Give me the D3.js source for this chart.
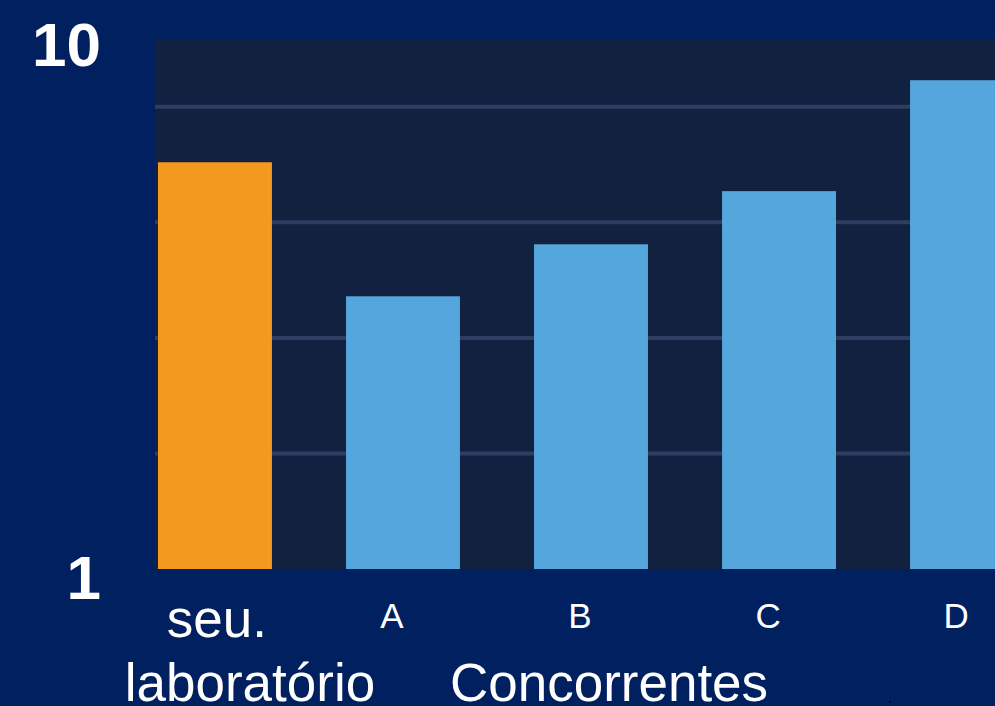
<!DOCTYPE html>
<html>
<head>
<meta charset="utf-8">
<script src="https://cdn.jsdelivr.net/npm/d3@7"></script>
<style>
  html, body { margin: 0; padding: 0; background: #00205f; overflow: hidden; }
  text { font-family: "Liberation Sans", Arial, sans-serif; }
</style>
</head>
<body>
<script>
// data
const categories = ["seu. laboratório", "A", "B", "C", "D"];
const values = [8.04, 5.72, 6.62, 7.54, 9.46];
const barColors = ["#f3991f", "#55a6dd", "#55a6dd", "#55a6dd", "#55a6dd"];
const gridValues = [3, 5, 7, 9];
const tickLabels = [1, 10];
const groupLabel = "Concorrentes";

const width = 995, height = 706;
const plot = { left: 155, top: 39, right: 995, bottom: 569 };

const svg = d3.select("body")
    .append("svg")
    .attr("width", width)
    .attr("height", height);

// plot background
svg.append("rect")
    .attr("x", plot.left)
    .attr("y", plot.top)
    .attr("width", plot.right - plot.left)
    .attr("height", plot.bottom - plot.top)
    .attr("fill", "#12213f");

const x = d3.scaleBand()
    .domain(categories)
    .range([158, 1024])
    .paddingInner(0.394)
    .paddingOuter(0)
    .align(0);

const y = d3.scaleLinear()
    .domain([1, 10])
    .range([plot.bottom, 49]);

// gridlines
svg.append("g")
    .selectAll("line")
    .data(gridValues)
    .join("line")
    .attr("x1", plot.left)
    .attr("x2", plot.right)
    .attr("y1", d => y(d))
    .attr("y2", d => y(d))
    .attr("stroke", "#2e3e62")
    .attr("stroke-width", 4);

// bars
svg.append("g")
    .selectAll("rect")
    .data(categories)
    .join("rect")
    .attr("x", d => x(d))
    .attr("width", x.bandwidth())
    .attr("y", (d, i) => y(values[i]))
    .attr("height", (d, i) => y(1) - y(values[i]))
    .attr("fill", (d, i) => barColors[i]);

// y tick labels (only 1 and 10)
svg.append("g")
    .selectAll("text")
    .data(tickLabels)
    .join("text")
    .attr("x", 101)
    .attr("y", d => y(d) + (d === 10 ? 17 : 30))
    .attr("text-anchor", "end")
    .attr("fill", "#ffffff")
    .attr("font-weight", "bold")
    .attr("font-size", 62)
    .text(d => d);

// category labels
const cx = d => x(d) + x.bandwidth() / 2;
svg.append("g")
    .selectAll("text")
    .data(categories.slice(1))
    .join("text")
    .attr("x", d => cx(d) - 11)
    .attr("y", 628)
    .attr("text-anchor", "middle")
    .attr("fill", "#ffffff")
    .attr("font-size", 35)
    .text(d => d);

const first = categories[0].split(" ");
svg.append("text")
    .attr("x", cx(categories[0]) + 2)
    .attr("y", 637)
    .attr("text-anchor", "middle")
    .attr("fill", "#ffffff")
    .attr("font-size", 53)
    .text(first[0]);
svg.append("text")
    .attr("x", cx(categories[0]) + 35)
    .attr("y", 701)
    .attr("text-anchor", "middle")
    .attr("fill", "#ffffff")
    .attr("font-size", 53)
    .text(first[1]);

// group label under competitors
svg.append("text")
    .attr("x", 609)
    .attr("y", 701)
    .attr("text-anchor", "middle")
    .attr("fill", "#ffffff")
    .attr("font-size", 53)
    .text(groupLabel);

// stray dot from the original slide
svg.append("text")
    .attr("x", 890)
    .attr("y", 703)
    .attr("text-anchor", "middle")
    .attr("fill", "#000000")
    .attr("font-size", 16)
    .text(".");
</script>
</body>
</html>
